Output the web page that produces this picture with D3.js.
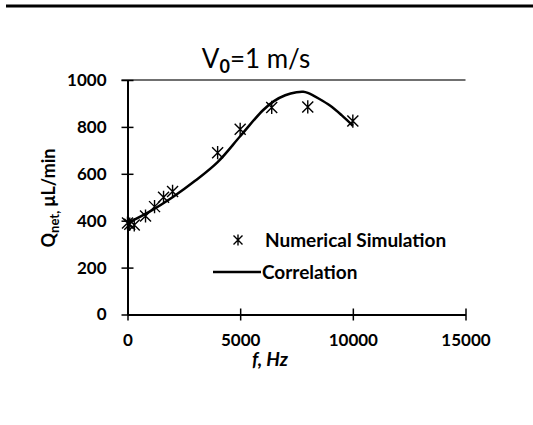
<!DOCTYPE html>
<html>
<head>
<meta charset="utf-8">
<script src="https://cdn.jsdelivr.net/npm/d3@7"></script>
<style>
  body { margin: 0; background: #fff; }
  text { font-family: Lato, "Open Sans", sans-serif; }
</style>
</head>
<body>
<div id="chart"></div>
<script>
// Simulation points
const simFreq = [0, 100, 300, 800, 1200, 1600, 2000, 4000, 5000, 6400, 8000, 10000];
const simQ = [390, 385, 382, 420, 460, 500, 525, 690, 790, 883, 885, 825];

// Correlation curve
const corrFreq = [0, 1000, 2000, 3000, 4000, 5000, 6000, 6500, 7000, 7500, 7800, 8000, 8500, 9000, 9500, 10000];
const corrQ = [390, 440, 500, 570, 650, 760, 870, 910, 935, 948, 950, 945, 920, 890, 850, 805];

const xTicks = [0, 5000, 10000, 15000];
const yTicks = [0, 200, 400, 600, 800, 1000];

const width = 533, height = 425;
const svg = d3.select("#chart").append("svg")
    .attr("width", width)
    .attr("height", height);

// top rule
svg.append("line")
    .attr("x1", 6).attr("x2", 533)
    .attr("y1", 6).attr("y2", 6)
    .attr("stroke", "#000").attr("stroke-width", 3);

const x = d3.scaleLinear().domain([0, 15000]).range([127.5, 465.5]);
const y = d3.scaleLinear().domain([0, 1000]).range([314.5, 80]);

// top border of plot
svg.append("line")
    .attr("x1", x(0) - 6).attr("x2", x(15000))
    .attr("y1", y(1000)).attr("y2", y(1000))
    .attr("stroke", "#404040").attr("stroke-width", 1.5);

// axes with crossing ticks
const xAxis = svg.append("g")
    .attr("transform", `translate(0,${y(0)})`)
    .call(d3.axisBottom(x).tickValues(xTicks).tickSize(6).tickSizeOuter(0).tickFormat(d3.format("d")));
xAxis.selectAll(".tick line").attr("y1", -6).attr("y2", 6);
xAxis.selectAll(".tick text").attr("dy", 0).attr("y", 31)
    .style("font-size", "17px").style("font-weight", "bold").attr("fill", "#000");

const yAxis = svg.append("g")
    .attr("transform", `translate(${x(0)},0)`)
    .call(d3.axisLeft(y).tickValues(yTicks).tickSize(6).tickSizeOuter(0).tickFormat(d3.format("d")));
yAxis.selectAll(".tick line").attr("x1", -6).attr("x2", 6);
yAxis.selectAll(".tick text").attr("x", -21)
    .style("font-size", "17px").style("font-weight", "bold").attr("fill", "#000");

svg.selectAll(".domain").attr("stroke", "#000").attr("stroke-width", 2);
svg.selectAll(".tick line").attr("stroke", "#000").attr("stroke-width", 1.5);

// correlation line
const corr = corrFreq.map((f, i) => ({ f: f, q: corrQ[i] }));
svg.append("path")
    .datum(corr)
    .attr("fill", "none")
    .attr("stroke", "#000")
    .attr("stroke-width", 2.5)
    .attr("d", d3.line().x(d => x(d.f)).y(d => y(d.q)).curve(d3.curveCatmullRom.alpha(0.5)));

// star markers
function star(g, cx, cy, r) {
    g.append("path")
        .attr("d", `M${cx - r},${cy - r}L${cx + r},${cy + r}M${cx - r},${cy + r}L${cx + r},${cy - r}M${cx},${cy - r * 1.2}L${cx},${cy + r * 1.2}`)
        .attr("stroke", "#000")
        .attr("stroke-width", 1.4)
        .attr("fill", "none");
}
const marks = svg.append("g");
simFreq.forEach((f, i) => star(marks, x(f), y(simQ[i]), 5.5));

// legend
star(svg, 238, 240, 4.5);
svg.append("text").attr("x", 265).attr("y", 247)
    .style("font-size", "19px").style("font-weight", "bold")
    .text("Numerical Simulation");
svg.append("line")
    .attr("x1", 213).attr("x2", 261).attr("y1", 272).attr("y2", 272)
    .attr("stroke", "#000").attr("stroke-width", 2.5);
svg.append("text").attr("x", 262).attr("y", 279)
    .style("font-size", "19px").style("font-weight", "bold")
    .text("Correlation");

// title
const title = svg.append("text")
    .attr("x", 256).attr("y", 68)
    .attr("text-anchor", "middle")
    .style("font-size", "26px");
title.append("tspan").text("V");
title.append("tspan").attr("dy", 5).style("font-size", "18px").style("font-weight", "bold").text("0");
title.append("tspan").attr("dy", -5).text("=1 m/s");

// axis titles
svg.append("text")
    .attr("x", 270).attr("y", 366)
    .attr("text-anchor", "middle")
    .style("font-size", "19px").style("font-weight", "bold").style("font-style", "italic")
    .text("f, Hz");

const yl = svg.append("text")
    .attr("transform", "translate(55,198) rotate(-90)")
    .attr("text-anchor", "middle")
    .style("font-size", "18px").style("font-weight", "bold");
yl.append("tspan").text("Q");
yl.append("tspan").attr("dy", 4).style("font-size", "13px").text("net,");
yl.append("tspan").attr("dy", -4).text(" \u03bcL/min");
</script>
</body>
</html>
